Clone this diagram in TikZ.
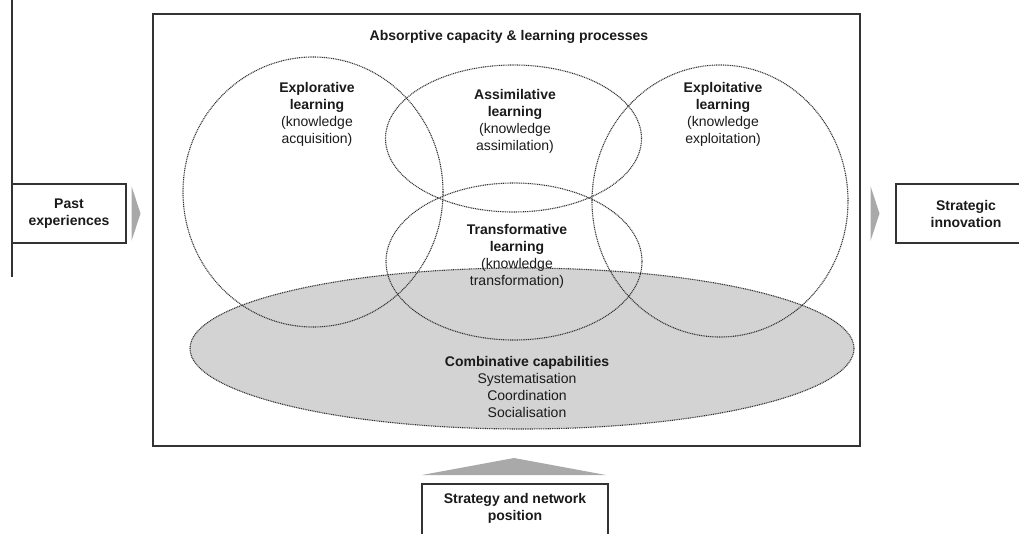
\documentclass[tikz,border=0pt]{standalone}
\usepackage{fontspec}
\setmainfont{Liberation Sans}
\usetikzlibrary{shapes.geometric,positioning}
\definecolor{capgray}{HTML}{D3D3D3}
\definecolor{flowgray}{HTML}{A9A9A9}
\definecolor{linegray}{HTML}{333333}
\definecolor{textgray}{HTML}{1A1A1A}

\begin{document}
\begin{tikzpicture}[x=1pt,y=-1pt,
  every node/.style={font=\fontsize{14}{17}\selectfont, align=center, inner sep=0pt, text=textgray},
  process/.style={ellipse, draw=linegray, line width=1.1pt, dash pattern=on 1pt off 0.8pt},
  sidebox/.style={draw=linegray, line width=1.5pt}]
\useasboundingbox (0,0) rectangle (1019,534);

% outer frame
\node[draw=linegray, line width=1.8pt, minimum width=707, minimum height=432] (acap) at (506.5,230) {};
\node (title) at (509,37) {\textbf{Absorptive capacity \& learning processes}};

% combinative capabilities (shaded)
\node[process, fill=capgray, minimum width=664, minimum height=161] (comb) at (522,348.5) {};

% the four learning processes
\foreach \name/\cx/\cy/\rx/\ry in {explor/313/192/130/135, assim/513.5/138.5/128/73.5,
    transf/514/261.5/128/78.5, exploit/720/201/128/136}
  \node[process, minimum width=2*\rx, minimum height=2*\ry] (\name) at (\cx,\cy) {};

% labels
\node (explortxt) at (317,114) {\textbf{Explorative}\\\textbf{learning}\\(knowledge\\acquisition)};
\node (assimtxt) at (515,121.5) {\textbf{Assimilative}\\\textbf{learning}\\(knowledge\\assimilation)};
\node (exploittxt) at (723,114) {\textbf{Exploitative}\\\textbf{learning}\\(knowledge\\exploitation)};
\node (transftxt) at (517,256.5) {\textbf{Transformative}\\\textbf{learning}\\(knowledge\\transformation)};
\node (combtxt) at (527,387) {\textbf{Combinative capabilities}\\Systematisation\\Coordination\\Socialisation};

% inputs and output
\draw[linegray, line width=1.2pt] (12,0) -- (12,277);
\node[sidebox, minimum width=114, minimum height=59] (past) at (69,213.5) {\textbf{Past}\\\textbf{experiences}};
\node[sidebox, minimum width=140, minimum height=59] (innov) at (966,213.5) {\textbf{Strategic}\\\textbf{innovation}};
\node[sidebox, anchor=north, minimum width=186, minimum height=70] (strat) at (515,483) {};
\node[below=10pt of strat.north] (strattxt) {\textbf{Strategy and network}\\\textbf{position}};

% flow arrows
\fill[flowgray] (131.5,186) -- (140.5,213.5) -- (131.5,241) -- cycle;
\fill[flowgray] (870.5,186) -- (879.5,213.5) -- (870.5,241) -- cycle;
\fill[flowgray] (422,475) -- (514,458) -- (606,475) -- cycle;
\end{tikzpicture}
\end{document}
